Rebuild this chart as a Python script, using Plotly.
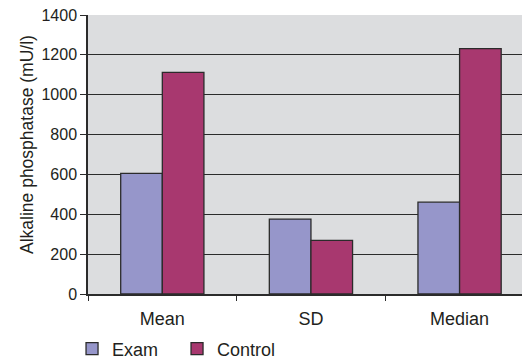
import plotly.graph_objects as go

categories = ["Mean", "SD", "Median"]
exam_values = [605, 376, 461]
control_values = [1112, 269, 1231]
series_names = ["Exam", "Control"]
y_ticks = [0, 200, 400, 600, 800, 1000, 1200, 1400]
y_title = "Alkaline phosphatase (mU/l)"

FONT = "Liberation Sans, Arial, sans-serif"
TXT = "#231F20"
LINE = "#2B2B2B"

fig = go.Figure()
fig.add_trace(go.Bar(x=categories, y=exam_values, name=series_names[0],
                     marker=dict(color="#9696CA", line=dict(color=LINE, width=1.3))))
fig.add_trace(go.Bar(x=categories, y=control_values, name=series_names[1],
                     marker=dict(color="#A8386F", line=dict(color=LINE, width=1.3))))

fig.update_layout(
    width=522, height=359,
    margin=dict(l=88, r=0, t=15, b=65),
    paper_bgcolor="white", plot_bgcolor="#DCDDDF",
    barmode="group", bargap=0.44, bargroupgap=0,
    font=dict(family=FONT, color=TXT, size=16),
    showlegend=True,
    legend=dict(orientation="h", xref="container", x=0.138, xanchor="left",
                yref="container", y=10 / 359, yanchor="middle",
                font=dict(size=18, color=TXT), entrywidth=60, bgcolor="rgba(0,0,0,0)",
                itemclick=False),
    xaxis=dict(range=[-0.5, 2.42], automargin=False, showgrid=False, showline=True,
               linecolor=LINE, linewidth=1.5,
               ticks="outside", tickson="boundaries", ticklen=5, tickcolor=LINE, tickwidth=1.2,
               ticklabelstandoff=8,
               tickfont=dict(size=18, color=TXT), zeroline=False),
    yaxis=dict(range=[0, 1400], automargin=False, tickvals=y_ticks, showgrid=True,
               gridcolor=LINE, gridwidth=1.3,
               showline=True, linecolor=LINE, linewidth=1.5, ticks="outside", ticklen=6,
               tickcolor=LINE, tickwidth=1.2, tickfont=dict(size=16, color=TXT),
               zeroline=False),
    annotations=[dict(text=y_title, textangle=-90, xref="paper", yref="paper",
                      x=-61 / 434, y=(294 - 145) / 279, xanchor="center", yanchor="middle",
                      showarrow=False, font=dict(size=17.5, color=TXT, family=FONT))],
)

fig.write_html("out.html", config={"displayModeBar": False},
               post_script="document.body.style.margin='0';")
